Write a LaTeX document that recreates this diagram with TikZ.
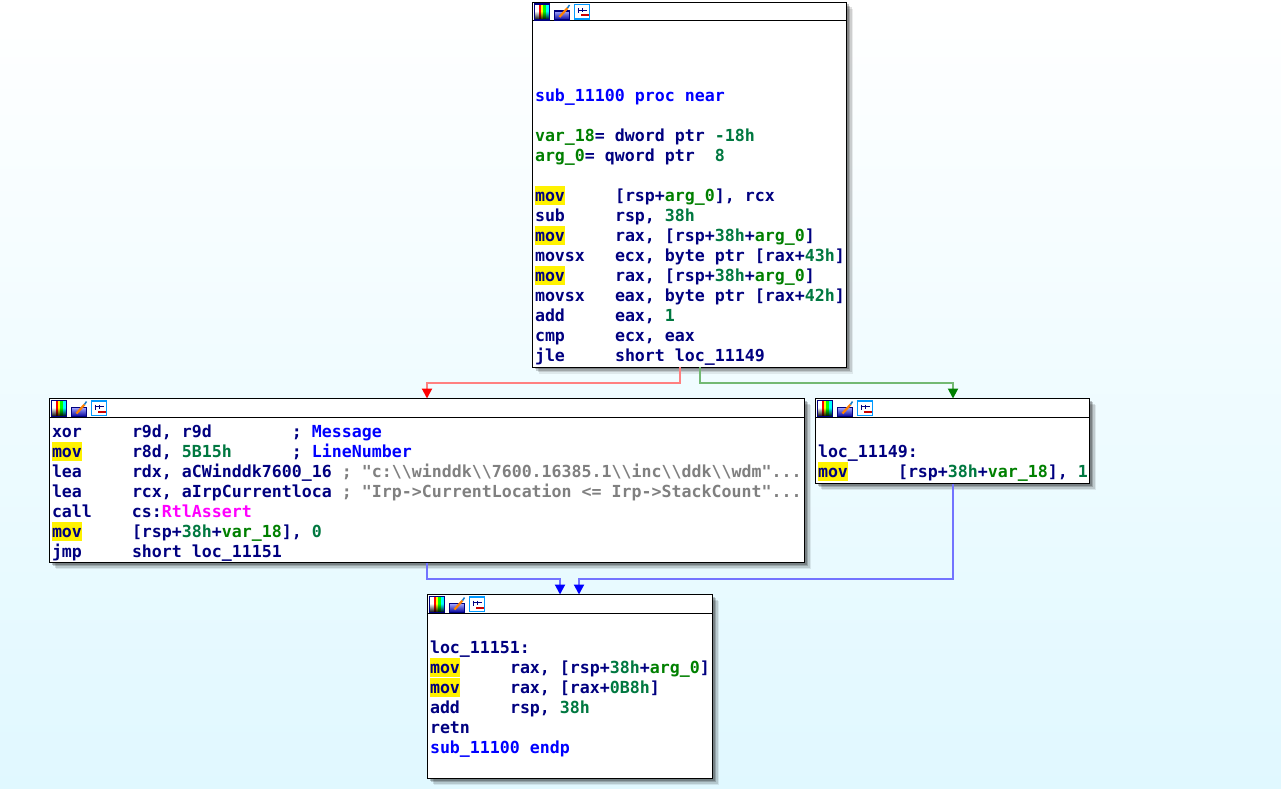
\documentclass[tikz,border=0pt]{standalone}
\usepackage{fontspec}
\setmonofont{DejaVu Sans Mono}
\usepackage{tikz}
\usetikzlibrary{positioning,shadows,arrows.meta,fadings}

\definecolor{asmnavy}{HTML}{000080}
\definecolor{asmblue}{HTML}{0000FF}
\definecolor{asmgreen}{HTML}{008000}
\definecolor{asmnum}{HTML}{007840}
\definecolor{asmgray}{HTML}{808080}
\definecolor{asmpink}{HTML}{FF00FF}
\definecolor{bgbottom}{HTML}{E0F8FF}

\pgfdeclarehorizontalshading{rainbow}{100bp}{color(25bp)=(magenta); color(32bp)=(red); color(40bp)=(yellow); color(50bp)=(green); color(60bp)=(cyan); color(75bp)=(blue)}

\newcommand{\lbl}[1]{\textcolor{asmblue}{#1}}
\newcommand{\grn}[1]{\textcolor{asmgreen}{#1}}
\newcommand{\num}[1]{\textcolor{asmnum}{#1}}
\newcommand{\gry}[1]{\textcolor{asmgray}{#1}}
\newcommand{\pnk}[1]{\textcolor{asmpink}{#1}}
\newcommand{\opc}[1]{\makebox[80pt][l]{#1}}
\newcommand{\mov}{\makebox[0pt][l]{\smash{\textcolor{yellow}{\rule[-4pt]{30pt}{19pt}}}}\opc{mov}}

\tikzset{
  x=1pt,y=-1pt,
  blockbox/.style={draw=black,fill=white,line width=1pt,inner sep=0pt,outer sep=0pt,
    anchor=north west,
    drop shadow={shadow xshift=6.5pt,shadow yshift=-6.5pt,fill=black,opacity=.08},
    drop shadow={shadow xshift=5pt,shadow yshift=-5pt,fill=black,opacity=.12},
    drop shadow={shadow xshift=3.5pt,shadow yshift=-3.5pt,fill=black,opacity=.18},
    drop shadow={shadow xshift=2pt,shadow yshift=-2pt,fill=black,opacity=.22}},
  asmtext/.style={anchor=north west,inner sep=0pt,outer sep=0pt,align=left,text=asmnavy,
    font=\fontsize{16.6}{20}\selectfont\ttfamily\bfseries},
  falseedge/.style={draw=red!50,line width=2pt,-{Triangle[length=10pt,width=10pt,fill=red,color=red]}},
  trueedge/.style={draw=asmgreen!55,line width=2pt,-{Triangle[length=10pt,width=10pt,fill=asmgreen,color=asmgreen]}},
  jumpedge/.style={draw=asmblue!55,line width=2pt,-{Triangle[length=10pt,width=10pt,fill=asmblue,color=asmblue]}},
  titlebar/.style={draw=black,line width=1pt},
  blockicons/.pic={
    \shade[shading=rainbow] (2,2) rectangle (17,18);
    \fill[black,path fading=north] (2,9) rectangle (17,18);
    \draw[asmnavy,line width=1.2pt] (2,2) rectangle (17,18);
    \shade[top color=blue!35!white,bottom color=blue!60!black] (22,9) rectangle (37,18);
    \draw[asmnavy,line width=1.2pt] (22,9) rectangle (37,18);
    \draw[orange,line width=2.2pt] (27,15) -- (35,6);
    \draw[cyan!60!blue,line width=1.5pt] (35,6) -- (37,3);
    \fill[white] (42,2.5) rectangle (57,17);
    \draw[blue!40!cyan,line width=1.2pt] (42,2.5) rectangle (57,17);
    \draw[asmnavy,line width=.8pt] (45,8) -- (54,8);
    \draw[asmnavy,line width=.8pt] (46,6) -- (46,11);
    \draw[asmnavy,line width=.8pt] (50,6) -- (50,10);
    \fill[red!80!black] (48,12) rectangle (56,14);
  }
}

\begin{document}
\begin{tikzpicture}
  \useasboundingbox (0,0) rectangle (1281,788);
  \shade[top color=white,bottom color=bgbottom] (0,0) rectangle (1281,788);

  % basic blocks
  \node[blockbox,minimum width=314pt,minimum height=365pt] (blockA) at (532.5,2) {};
  \node[blockbox,minimum width=755pt,minimum height=164pt] (blockB) at (49.5,398.5) {};
  \node[blockbox,minimum width=274pt,minimum height=85pt] (blockC) at (815.5,398.5) {};
  \node[blockbox,minimum width=285pt,minimum height=184pt] (blockD) at (427.5,594.5) {};

  % title bars
  \foreach \blk in {blockA,blockB,blockC,blockD} {
    \draw[titlebar] ([yshift=-18.5pt]\blk.north west) -- ([yshift=-18.5pt]\blk.north east);
    \pic at (\blk.north west) {blockicons};
  }

  % listings
  \node[asmtext] (textA) at (535,27) {\strut\\\strut\\\strut\\
    \lbl{sub\_11100 proc near}\\\strut\\
    \grn{var\_18}= dword ptr \num{-18h}\\
    \grn{arg\_0}= qword ptr~~\num{8}\\\strut\\
    \mov[rsp+\grn{arg\_0}], rcx\\
    \opc{sub}rsp, \num{38h}\\
    \mov rax, [rsp+\num{38h}+\grn{arg\_0}]\\
    \opc{movsx}ecx, byte ptr [rax+\num{43h}]\\
    \mov rax, [rsp+\num{38h}+\grn{arg\_0}]\\
    \opc{movsx}eax, byte ptr [rax+\num{42h}]\\
    \opc{add}eax, \num{1}\\
    \opc{cmp}ecx, eax\\
    \opc{jle}short loc\_11149};
  \node[asmtext] (textB) at (52,423) {\strut\opc{xor}r9d, r9d~~~~~~~~; \lbl{Message}\\
    \mov r8d, \num{5B15h}~~~~~~; \lbl{LineNumber}\\
    \opc{lea}rdx, aCWinddk7600\_16 \gry{; "c:\textbackslash\textbackslash winddk\textbackslash\textbackslash 7600.16385.1\textbackslash\textbackslash inc\textbackslash\textbackslash ddk\textbackslash\textbackslash wdm"...}\\
    \opc{lea}rcx, aIrpCurrentloca \gry{; "Irp->CurrentLocation <= Irp->StackCount"...}\\
    \opc{call}cs:\pnk{RtlAssert}\\
    \mov [rsp+\num{38h}+\grn{var\_18}], \num{0}\\
    \opc{jmp}short loc\_11151};
  \node[asmtext] (textC) at (818,443) {\strut loc\_11149:\\
    \mov [rsp+\num{38h}+\grn{var\_18}], \num{1}};
  \node[asmtext] (textD) at (430,639) {\strut loc\_11151:\\
    \mov rax, [rsp+\num{38h}+\grn{arg\_0}]\\
    \mov rax, [rax+\num{0B8h}]\\
    \opc{add}rsp, \num{38h}\\
    \opc{retn}\\
    \lbl{sub\_11100 endp}};

  % connectors
  \coordinate (exitAred) at ([xshift=147.5pt]blockA.south west);
  \coordinate (exitAgreen) at ([xshift=167.5pt]blockA.south west);
  \coordinate (exitB) at ([xshift=377.5pt]blockB.south west);
  \coordinate (exitC) at ([xshift=137.5pt]blockC.south west);
  \coordinate (entryB) at ([xshift=377.5pt]blockB.north west);
  \coordinate (entryC) at ([xshift=137.5pt]blockC.north west);
  \coordinate (entryDl) at ([xshift=132.5pt]blockD.north west);
  \coordinate (entryDr) at ([xshift=151.5pt]blockD.north west);
  \draw[falseedge] (exitAred) -- ++(0,16) -| (entryB);
  \draw[trueedge] (exitAgreen) -- ++(0,16) -| (entryC);
  \draw[jumpedge] (exitB) -- ++(0,16) -| (entryDl);
  \draw[jumpedge] (exitC) -- ++(0,95) -| (entryDr);
\end{tikzpicture}
\end{document}
